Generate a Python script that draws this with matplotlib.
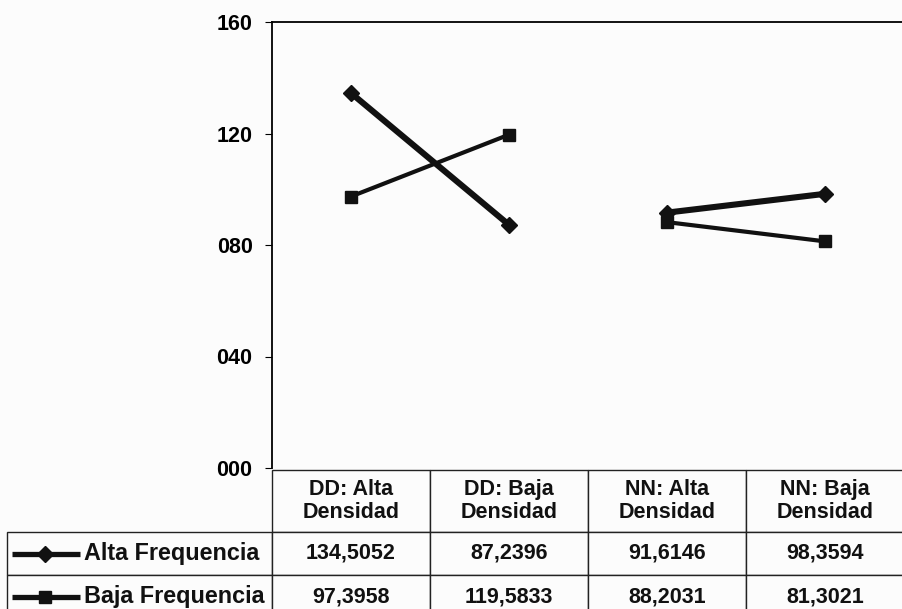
import matplotlib.pyplot as plt
from matplotlib.lines import Line2D

plt.rcParams['font.family'] = ['Liberation Sans', 'DejaVu Sans']
plt.rcParams['font.weight'] = 'bold'

categorias = ['DD: Alta\nDensidad', 'DD: Baja\nDensidad',
              'NN: Alta\nDensidad', 'NN: Baja\nDensidad']
series = ['Alta Frequencia', 'Baja Frequencia']
alta_freq = [134.5052, 87.2396, 91.6146, 98.3594]
baja_freq = [97.3958, 119.5833, 88.2031, 81.3021]
y_ticks = [0, 40, 80, 120, 160]
grupos = [(0, 2), (2, 4)]  # DD y NN se unen por separado

W, H = 903, 609
fondo = '#fcfcfc'
fig = plt.figure(figsize=(W / 100, H / 100), dpi=100, facecolor=fondo)

# área del gráfico en píxeles
x0, x1, y_top, y_bot = 272, 904, 22, 468
ax = fig.add_axes([x0 / W, (H - y_bot) / H, (x1 - x0) / W, (y_bot - y_top) / H])
ax.set_facecolor(fondo)

estilos = [dict(lw=4.4, marker='D', ms=8.5), dict(lw=3.0, marker='s', ms=9)]
x = list(range(len(categorias)))
for valores, st in zip([alta_freq, baja_freq], estilos):
    for a, b in grupos:
        ax.plot(x[a:b], valores[a:b], color='#111111', solid_capstyle='butt', **st)

ax.set_xlim(-0.5, len(categorias) - 0.5)
ax.set_ylim(0, 160)
ax.set_yticks(y_ticks)
ax.set_yticklabels([f'{v:03d}' for v in y_ticks], fontsize=15.5, fontweight='bold')
ax.tick_params(axis='y', length=5, width=0.8, pad=9)
ax.set_xticks([])
for s in ['left', 'top', 'right']:
    ax.spines[s].set_linewidth(1.3)
ax.spines['bottom'].set_visible(False)

# tabla de datos debajo del gráfico (medidas en fracciones de los ejes)
ax_h = y_bot - y_top
ax_w = x1 - x0
lab_w = 265
tab_top, tab_bot = 470, 618
alturas = {0: 62, 1: 43, 2: 43}
tabla = ax.table(
    cellText=[[f'{v:.4f}'.replace('.', ',') for v in alta_freq],
              [f'{v:.4f}'.replace('.', ',') for v in baja_freq]],
    colLabels=categorias,
    cellLoc='center',
    bbox=[0, -(tab_bot - y_bot) / ax_h, 1, (tab_bot - tab_top) / ax_h],
)
# etiquetas de fila con ancho fijo
for i, nombre in enumerate(series):
    tabla.add_cell(i + 1, -1, width=lab_w / ax_w, height=alturas[i + 1] / ax_h,
                   text=nombre, loc='left')
tabla.auto_set_font_size(False)
for (r, c), cell in tabla.get_celld().items():
    cell.set_height(alturas[r] / ax_h)
    cell.set_width((lab_w if c == -1 else ax_w / 4) / ax_w)
    cell.set_linewidth(1.0)
    cell.set_edgecolor('#222222')
    cell.set_facecolor(fondo)
    txt = cell.get_text()
    txt.set_fontsize(16.8 if c == -1 else 15.5)
    txt.set_fontweight('bold')
    txt.set_color('#111111')
    txt.set_linespacing(1.1)
    if c == -1:
        cell.PAD = 0.292

# claves de la leyenda dentro de las etiquetas de fila
lineas = ax.get_lines()
for i, ln in enumerate([lineas[0], lineas[2]]):
    yc = [554, 597][i]
    key = Line2D([12 / W, 80 / W], [(H - yc) / H] * 2, transform=fig.transFigure,
                 color=ln.get_color(), lw=3.8, solid_capstyle='butt')
    mk = Line2D([45 / W], [(H - yc) / H], transform=fig.transFigure,
                color=ln.get_color(), marker=ln.get_marker(),
                ms=ln.get_markersize() * 0.9, ls='none')
    fig.add_artist(key)
    fig.add_artist(mk)

fig.savefig('out.png', dpi=100, facecolor=fig.get_facecolor())
